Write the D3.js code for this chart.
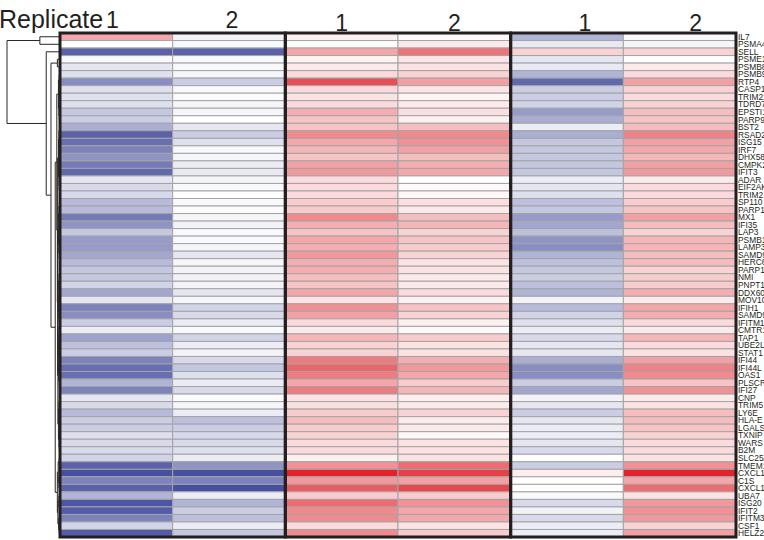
<!DOCTYPE html>
<html>
<head>
<meta charset="utf-8">
<script src="https://cdn.jsdelivr.net/npm/d3@7/dist/d3.min.js"></script>
<style>
  body { margin: 0; background: #fff; }
  text { font-family: Arial, "Liberation Sans", sans-serif; }
</style>
</head>
<body>
<div id="chart"></div>
<script>
// ---------- data ----------
const genes = ["IL7","PSMA4","SELL","PSME1","PSMB8","PSMB9","RTP4","CASP1","TRIM22","TDRD7",
  "EPSTI1","PARP9","BST2","RSAD2","ISG15","IRF7","DHX58","CMPK2","IFIT3","ADAR",
  "EIF2AK2","TRIM21","SP110","PARP14","MX1","IFI35","LAP3","PSMB10","LAMP3","SAMD9L",
  "HERC6","PARP12","NMI","PNPT1","DDX60","MOV10","IFIH1","SAMD9","IFITM1","CMTR1",
  "TAP1","UBE2L6","STAT1","IFI44","IFI44L","OAS1","PLSCR1","IFI27","CNP","TRIM5",
  "LY6E","HLA-E","LGALS3BP","TXNIP","WARS","B2M","SLC25A28","TMEM140","CXCL10","C1S",
  "CXCL11","UBA7","ISG20","IFIT2","IFITM3","CSF1","HELZ2"];

const replicateLabels = ["1", "2", "1", "2", "1", "2"];

// log fold change per replicate column (3 groups x 2 replicates)
const group1Rep1 = [1.2,0,-2.5,-0.1,-0.4,-0.5,-1.8,-0.5,-0.5,-0.5,
  -0.9,-0.8,-1.3,-2.5,-2.3,-2.0,-1.7,-2.1,-2.4,-0.4,
  -0.6,-0.6,-1.1,-1.1,-2.1,-1.7,-0.9,-1.6,-1.6,-1.4,
  -1.1,-0.9,-0.9,-0.7,-1.4,-0.4,-2.0,-1.8,-0.8,-0.3,
  -1.5,-1.0,-0.8,-2.0,-2.3,-2.3,-1.2,-2.0,-0.4,-0.6,
  -1.1,-0.8,-0.8,-0.5,-0.6,-0.6,-0.7,-2.5,-2.8,-2.0,
  -2.5,-1.2,-2.7,-2.6,-2.0,-0.7,-2.6];
const group1Rep2 = [-0.2,-0.1,-2.5,-0.1,-0.1,-0.15,-0.8,-0.1,-0.05,-0.15,
  -0.15,0,-0.4,-0.8,-0.5,-0.1,-0.15,-0.3,-0.35,-0.15,
  -0.1,0,-0.1,-0.05,-0.15,-0.2,-0.1,-0.1,-0.15,-0.4,
  -0.15,-0.2,-0.2,-0.2,-0.4,-0.15,-0.7,-0.6,-0.3,-0.1,
  -0.7,-0.3,-0.2,-0.6,-0.9,-0.5,-0.3,-0.6,-0.05,-0.15,
  -0.3,-1.0,-0.8,-0.6,-0.6,-0.5,-0.3,-1.7,-2.8,-2.0,
  -2.8,-0.3,-1.2,-0.8,-1.0,-0.3,-0.9];
const group2Rep1 = [0.2,-0.05,1.2,0.15,0.3,0.5,2.4,0.5,0.4,0.5,
  1.1,0.8,0.8,1.6,1.2,1.0,0.8,1.3,1.4,0.5,
  0.5,0.5,0.7,0.7,1.6,1.1,0.8,1.2,1.1,1.4,
  1.1,1.1,0.9,0.8,1.2,0.4,1.5,1.3,0.5,0.3,
  1.0,0.6,0.6,1.8,2.1,1.8,1.2,1.8,0.4,0.45,
  0.7,0.9,0.7,0.6,0.5,0.5,0.2,1.5,3.0,1.4,
  2.2,0.7,2.0,1.6,1.6,0.5,1.6];
const group2Rep2 = [0.05,0.3,1.9,0.35,0.4,0.6,1.3,0.35,0.15,0.3,
  0.45,0.2,0.9,1.6,1.5,1.3,0.9,1.1,1.2,0,
  0.1,0.1,0.45,0.3,0.9,1.0,0.6,0.8,0.7,0.6,
  0.4,0.4,0.3,0.3,0.5,0.2,0.8,0.6,0.2,0.1,
  0.7,0.4,0.4,1.1,1.4,1.2,0.7,1.0,0.25,0.3,
  0.6,0.3,0.3,0.1,0.4,0.4,0.4,2.0,2.6,1.3,
  2.5,0.7,1.5,1.2,1.2,0.4,0.7];
const group3Rep1 = [-1.2,-0.35,0.6,-0.4,-0.35,-1.2,-2.4,-0.8,-0.8,-0.7,
  -1.6,-1.3,-0.3,-1.3,-0.9,-0.9,-0.9,-0.9,-0.9,-0.3,
  -0.4,-0.5,-1.0,-0.9,-1.6,-1.4,-1.0,-1.7,-1.8,-1.2,
  -1.0,-0.9,-0.8,-1.0,-1.2,-0.2,-1.1,-0.7,-0.5,-0.3,
  -0.6,-0.4,-0.4,-1.3,-1.8,-1.8,-0.8,-1.4,-0.2,-0.4,
  -0.8,-0.4,-0.3,-0.3,-0.4,-0.6,0,-0.8,0.25,0,
  -0.03,-0.1,-0.6,-0.2,-0.6,-0.3,-0.3];
const group3Rep2 = [-0.1,-0.15,0.6,0,0.3,0.5,1.3,0.6,0.5,0.6,
  0.9,0.8,0.9,1.7,1.3,1.2,1.0,1.3,1.4,0.3,
  0.5,0.5,0.7,0.8,1.3,0.9,0.6,1.0,1.0,0.9,
  0.9,0.6,0.7,0.7,1.1,0.3,1.2,1.1,0.5,0.3,
  1.0,0.5,0.4,1.3,1.7,1.6,0.8,1.5,0.3,0.4,
  0.9,0.9,0.8,0.6,0.5,0.5,0.4,1.5,3.0,1.2,
  2.0,0.4,1.4,1.5,1.4,0.6,1.3];

const columns = [group1Rep1, group1Rep2, group2Rep1, group2Rep2, group3Rep1, group3Rep2];

// row clustering: [height, left, right], leaves are row indexes
const F1 = [0.03, [0.015, 5, [0.01, 6, 7]], [0.02, [0.01, 8, 9], [0.012, 10, 11]]];
const F2 = [0.028, [0.02, [0.01, 12, 13], [0.012, 14, [0.008, 15, 16]]], [0.018, [0.01, 17, 18], [0.014, 19, [0.009, 20, 21]]]];
const F3 = [0.03, [0.02, [0.012, 22, 23], [0.01, 24, 25]], [0.022, [0.011, 26, 27], [0.015, 28, [0.01, 29, 30]]]];
const F4 = [0.032, [0.018, [0.01, 31, 32], [0.012, 33, 34]], [0.02, [0.011, 35, 36], [0.013, 37, 38]]];
const F5 = [0.034, [0.02, [0.012, 39, 40], [0.01, 41, 42]], [0.024, [0.014, 43, 44], [0.012, 45, [0.01, 46, 47]]]];
const F6 = [0.03, [0.02, [0.01, 48, 49], [0.012, 50, 51]], [0.018, [0.011, 52, 53], [0.013, 54, 55]]];
const G = [0.05, [0.035, [0.015, 56, 57], [0.02, [0.01, 58, 59], 60]], [0.04, [0.02, 61, [0.012, 62, 63]], [0.025, 64, [0.015, 65, 66]]]];
const F = [0.06, F1, [0.05, F2, [0.045, F3, [0.04, [0.037, F4, F5], F6]]]];
const rowTree = [1, [0.38, 0, 1],
  [0.26, 2,
    [0.17, [0.05, 3, 4],
      [0.09, F, G]]]];

// ---------- chart space ----------
const width = 764, height = 540;
const margin = {top: 33, right: 28, bottom: 3, left: 60};

const svg = d3.create("svg")
  .attr("width", width)
  .attr("height", height);

const xScale = d3.scaleBand()
  .domain(d3.range(columns.length))
  .range([margin.left, width - margin.right]);

const yScale = d3.scaleBand()
  .domain(genes)
  .range([margin.top, height - margin.bottom]);

const color = d3.scaleLinear()
  .domain([-3, 0, 3])
  .range(["#3a4399", "#ffffff", "#e2232a"])
  .clamp(true);

const hScale = d3.scaleLinear().domain([0, 1]).range([margin.left, 7]);

// ---------- cells ----------
const cells = [];
columns.forEach((col, c) => col.forEach((v, r) => cells.push({c, gene: genes[r], v})));

svg.append("g")
  .selectAll("rect")
  .data(cells)
  .join("rect")
  .attr("x", d => xScale(d.c))
  .attr("y", d => yScale(d.gene))
  .attr("width", xScale.bandwidth())
  .attr("height", yScale.bandwidth())
  .attr("fill", d => color(d.v))
  .attr("stroke", "#a4a4a4")
  .attr("stroke-width", 1);

// thick borders round each group
svg.append("g")
  .selectAll("rect")
  .data([0, 1, 2])
  .join("rect")
  .attr("x", g => xScale(g * 2))
  .attr("y", margin.top)
  .attr("width", xScale.bandwidth() * 2)
  .attr("height", height - margin.bottom - margin.top)
  .attr("fill", "none")
  .attr("stroke", "#231f20")
  .attr("stroke-width", 3);

// ---------- header ----------
svg.append("text")
  .attr("x", -1)
  .attr("y", 28)
  .attr("font-size", 25)
  .attr("fill", "#231f20")
  .text("Replicate");

const labelShift = [-4, 3, 0, 0, 18, 16];
svg.append("g")
  .selectAll("text")
  .data(replicateLabels)
  .join("text")
  .attr("x", (d, i) => xScale(i) + xScale.bandwidth() / 2 + labelShift[i])
  .attr("y", (d, i) => i < 2 ? 28 : 31)
  .attr("text-anchor", "middle")
  .attr("font-size", 23)
  .attr("fill", "#231f20")
  .text(d => d);

// ---------- gene labels ----------
svg.append("g")
  .selectAll("text")
  .data(genes)
  .join("text")
  .attr("x", width - margin.right + 2)
  .attr("y", d => yScale(d) + yScale.bandwidth() / 2 + 3)
  .attr("font-size", 8.4)
  .attr("fill", "#231f20")
  .text(d => d);

// ---------- dendrogram ----------
const dendro = svg.append("g")
  .attr("fill", "none")
  .attr("stroke", "#2a2522")
  .attr("stroke-width", 1);

function drawNode(node) {
  if (typeof node === "number") {
    return {x: margin.left, y: yScale(genes[node]) + yScale.bandwidth() / 2};
  }
  const a = drawNode(node[1]);
  const b = drawNode(node[2]);
  const x = hScale(node[0]);
  dendro.append("path")
    .attr("d", `M${a.x},${a.y}H${x}V${b.y}H${b.x}`);
  return {x, y: (a.y + b.y) / 2};
}
drawNode(rowTree);

document.getElementById("chart").appendChild(svg.node());
</script>
</body>
</html>
